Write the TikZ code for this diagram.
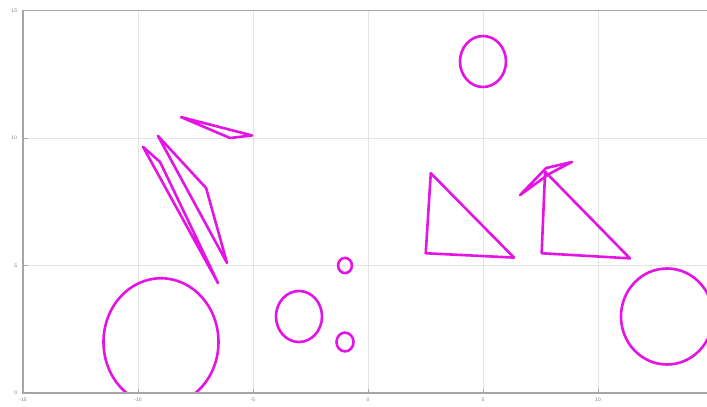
\documentclass[tikz,border=0pt]{standalone}
\usepackage{fontspec}
\setmainfont{Liberation Sans}
\definecolor{mag}{RGB}{228,20,228}
\definecolor{axisgray}{RGB}{165,165,165}
\definecolor{gridgray}{RGB}{228,228,228}
\tikzset{
  shapeline/.style={draw=mag, line width=2.6pt, line join=round},
  gridline/.style={draw=gridgray, line width=0.8pt},
  axisline/.style={draw=axisgray, line width=1.6pt},
  ticklabel/.style={font=\fontsize{5}{5}\selectfont, text=gray, inner sep=0pt}
}
\begin{document}
\begin{tikzpicture}[x=23pt,y=25.5pt]
  % bounding box: 707 x 407 px
  \useasboundingbox (-16,-0.549) rectangle (14.739,15.412);
  \fill[white] (-16,-0.549) rectangle (14.739,15.412);
  % grid
  \foreach \gx in {-10,-5,0,5,10}
    \draw[gridline] (\gx,0) -- (\gx,15);
  \foreach \gy in {5,10}
    \draw[gridline] (-15,\gy) -- (15,\gy);
  % shapes (clipped to axes)
  \begin{scope}
    \clip (-15,0) rectangle (15,15);
    \draw[shapeline] (-9,2) ellipse [x radius=57.5pt, y radius=63.75pt];
    \draw[shapeline] (-3,3) ellipse [x radius=23pt, y radius=25.5pt];
    \draw[shapeline] (-1,5) ellipse [x radius=6.9pt, y radius=7.6pt];
    \draw[shapeline] (-1,2) ellipse [x radius=8.5pt, y radius=9.4pt];
    \draw[shapeline] (5,13) ellipse [x radius=23pt, y radius=25.5pt];
    \draw[shapeline] (13,3) ellipse [x radius=46pt, y radius=48pt];
    % thin shapes left
    \draw[shapeline] (-9.78,9.65) -- (-9.04,9.06) -- (-6.52,4.31) -- cycle;
    \draw[shapeline] (-9.13,10.08) -- (-7.04,8.04) -- (-6.13,5.10) -- cycle;
    \draw[shapeline] (-8.13,10.82) -- (-6.0,10.0) -- (-5.04,10.10) -- cycle;
    % triangles right
    \draw[shapeline] (2.73,8.62) -- (2.51,5.48) -- (6.35,5.31) -- cycle;
    \draw[shapeline] (7.70,8.68) -- (7.55,5.48) -- (11.39,5.28) -- cycle;
    \draw[shapeline] (6.61,7.76) -- (7.74,8.82) -- (8.87,9.06) -- (7.87,8.59) -- cycle;
  \end{scope}
  % axes
  \draw[axisline] (-15,15) -- (-15,0) -- (15,0);
  \draw[axisline] (-15,15) -- (15,15);
  \foreach \gx in {-15,-10,-5,0,5,10}
    \draw[axisgray, line width=0.8pt] (\gx,0) -- (\gx,0.15);
  \foreach \gy in {5,10}
    \draw[axisgray, line width=0.8pt] (-15,\gy) -- (-14.8,\gy);
  % tick labels
  \foreach \gx/\lab in {-15/-15,-10/-10,-5/-5,0/0,5/5,10/10}
    \node[ticklabel, anchor=north] at (\gx,-0.18) {\lab};
  \foreach \gy/\lab in {0/0,5/5,10/10,15/15}
    \node[ticklabel, anchor=east] at (-15.25,\gy) {\lab};
\end{tikzpicture}
\end{document}
